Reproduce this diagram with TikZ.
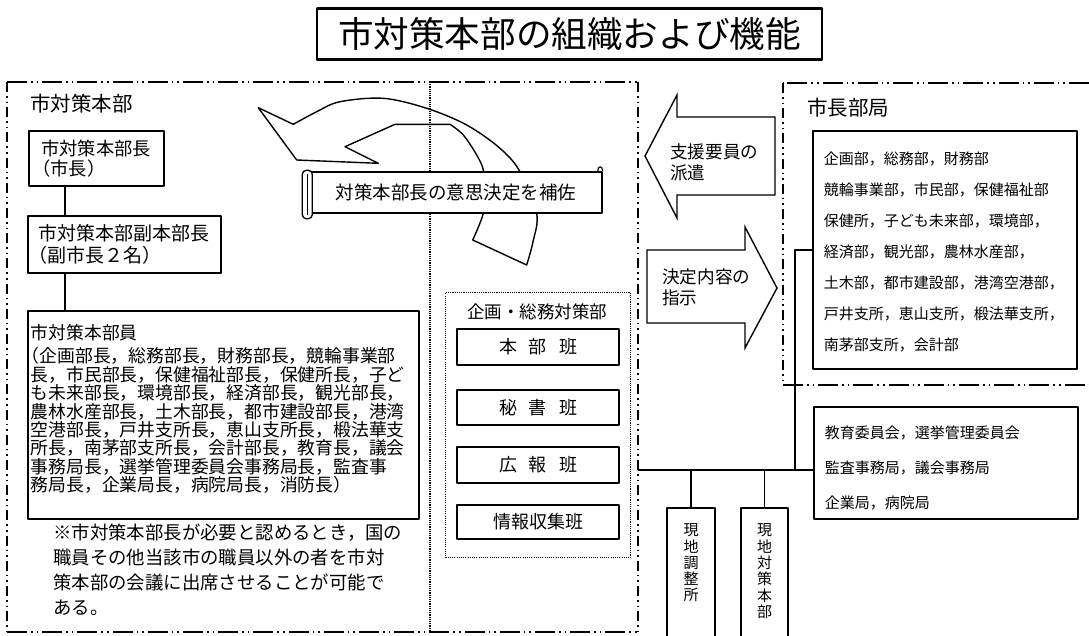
\documentclass[tikz,border=0pt]{standalone}
\usepackage{fontspec}
\setmainfont{Noto Sans CJK JP}
\usetikzlibrary{calc}
\newcommand\jfs[2]{\fontsize{#1}{#2}\selectfont}
\newcommand\mytopbox[4]{\parbox[c][#1][t]{#2}{\vspace*{#3}#4}}
\newcommand\lp{\hspace*{-0.5em}（}
\tikzset{
  box/.style={draw, line width=1.6pt, fill=white, inner sep=0pt},
  hdash/.style={line width=1.5pt, dash pattern=on 20pt off 4pt on 1.6pt off 4pt on 1.6pt off 4pt},
  vdash/.style={line width=1.3pt, dash pattern=on 10pt off 4pt on 1.6pt off 4pt on 1.6pt off 4pt},
  fdot/.style={line width=1.1pt, dash pattern=on 1.1pt off 1.1pt},
  conn/.style={line width=1.7pt},
  shapeline/.style={draw, line width=1.4pt, fill=white},
  lbl/.style={inner sep=0pt, align=left},
}
\begin{document}
\begin{tikzpicture}[x=1pt, y=-1pt, line join=round]
\useasboundingbox (0,0) rectangle (1089,635);
\fill[white] (0,0) rectangle (1089,635);

% title
\node[draw, line width=2.2pt, minimum width=505, minimum height=51, inner sep=0pt, font={\jfs{35.6}{40}}] (title) at (569.5,34) {市対策本部の組織および機能};

% outer frames
\draw[hdash] (7,82) -- (638,82);
\draw[vdash] (7,82) -- (7,632);
\draw[vdash] (638,82) -- (638,632);
\draw[hdash, line width=2.5pt] (7,632) -- (638,632);
\draw[hdash] (1089,83) -- (783,83);
\draw[vdash] (783,83) -- (783,385);
\draw[hdash] (783,385) -- (1089,385);

% left column
\node[lbl, anchor=west, font={\jfs{20.5}{22}}] (hqlabel) at (30,104) {市対策本部};
\node[box, minimum width=135, minimum height=55, anchor=north west, align=left, text width=110pt, font={\jfs{18.3}{20}}] (chief) at (28,130) {市対策本部長\\\lp 市長）};
\node[box, minimum width=193, minimum height=57, anchor=north west, align=left, text width=172pt, font={\jfs{19}{22}}] (vice) at (27,215) {市対策本部副本部長\\\lp 副市長２名）};
\node[box, minimum width=391, minimum height=208, anchor=north west] (members) at (27,310) {\mytopbox{208pt}{385pt}{14pt}{\jfs{17.8}{18.4}市対策本部員\\[4.6pt]
\lp 企画部長，総務部長，財務部長，競輪事業部\\
長，市民部長，保健福祉部長，保健所長，子ど\\
も未来部長，環境部長，経済部長，観光部長，\\
農林水産部長，土木部長，都市建設部長，港湾\\
空港部長，戸井支所長，恵山支所長，椴法華支\\
所長，南茅部支所長，会計部長，教育長，議会\\
事務局長，選挙管理委員会事務局長，監査事\\
務局長，企業局長，病院局長，消防長）}};
\node[lbl, anchor=west, font={\jfs{18.4}{25}}] (note) at (53,570) {※市対策本部長が必要と認めるとき，国の\\
職員その他当該市の職員以外の者を市対\\
策本部の会議に出席させることが可能で\\
ある。};

\coordinate (lx) at (65,0);
\draw[conn] (chief.south -| lx) -- (vice.north -| lx);
\draw[conn] (vice.south -| lx) -- (members.north -| lx);

% curved arrow
\draw[shapeline] (258.3,107.7) -- (293.3,124.3)
  -- plot[smooth, tension=0.55] coordinates {(293.3,124.3) (316.7,111.7) (340,101.7) (383.3,98.3) (426.7,108.3) (466.7,125) (500,148.3) (520,171.7) (536.7,213.3) (533,241.7) (526.7,265)}
  -- (472.7,240)
  -- plot[smooth, tension=0.55] coordinates {(472.7,240) (483.3,213.3) (484,190) (483.3,170) (476.7,155) (463.3,135) (450,124.3)}
  -- (395,124.3) -- (345,146.7) -- (378.3,163.3) -- (296.7,160) -- cycle;

% dotted divider
\draw[fdot] (430,82) -- (430,632);

% banner
\node[draw, line width=1.4pt, fill=white, minimum width=292, minimum height=41, inner sep=0pt, font={\jfs{18.5}{20}}] (banner) at (456,192.5) {対策本部長の意思決定を補佐};
\draw[line width=1.3pt, fill=white, rounded corners=4pt] ($(banner.north west)+(-7,-1)$) rectangle ($(banner.south west)+(3,5)$);
\draw[line width=1pt] ($(banner.north west)+(-2,3)$) -- ($(banner.south west)+(-2,1)$);
\draw[line width=1.2pt, fill=white] ($(banner.north east)+(-5,0)$) .. controls +(0,-6) and +(0,-6) .. ($(banner.north east)+(0,0)$);

% planning group
\node[fdot, draw, minimum width=185, minimum height=265, anchor=north west, inner sep=0pt] (planbox) at (445,292) {};
\node[inner sep=0pt, font={\jfs{17.5}{20}}] (plantitle) at (537,312) {企画・総務対策部};
\node[box, minimum width=162, minimum height=36, font={\jfs{18}{20}}] (t1) at (538,347) {本\hspace{12pt}部\hspace{12pt}班};
\node[box, minimum width=162, minimum height=35, font={\jfs{18}{20}}] (t2) at (538,407.5) {秘\hspace{12pt}書\hspace{12pt}班};
\node[box, minimum width=162, minimum height=36, font={\jfs{18}{20}}] (t3) at (538,465) {広\hspace{12pt}報\hspace{12pt}班};
\node[box, minimum width=162, minimum height=34, font={\jfs{18}{20}}] (t4) at (538,522) {情報収集班};

% block arrows
\draw[shapeline, line join=miter] (645,156) -- (677,95) -- (677,117) -- (775,117) -- (775,195) -- (677,195) -- (677,218) -- cycle;
\node[lbl, anchor=west, font={\jfs{17.6}{21}}] (support) at (670,162) {支援要員の\\派遣};
\draw[shapeline, line join=miter] (777,288) -- (745,227) -- (745,250) -- (647,250) -- (647,323) -- (745,323) -- (745,348) -- cycle;
\node[lbl, anchor=west, font={\jfs{17.6}{21}}] (instruct) at (662,287.5) {決定内容の\\指示};

% mayor's bureau
\node[lbl, anchor=west, font={\jfs{20.5}{22}}] (mayorlabel) at (807,108) {市長部局};
\node[box, minimum width=264, minimum height=238, anchor=north west] (mayorlist) at (812,130) {\mytopbox{238pt}{242pt}{21pt}{\jfs{15}{31}企画部，総務部，財務部\\
競輪事業部，市民部，保健福祉部\\
保健所，子ども未来部，環境部，\\
経済部，観光部，農林水産部，\\
土木部，都市建設部，港湾空港部，\\
戸井支所，恵山支所，椴法華支所，\\
南茅部支所，会計部}};
\node[box, minimum width=264, minimum height=112, anchor=north west] (boards) at (813,406) {\mytopbox{112pt}{242pt}{19pt}{\jfs{15}{35}教育委員会，選挙管理委員会\\
監査事務局，議会事務局\\
企業局，病院局}};

% field offices
\node[box, minimum width=48, minimum height=131, anchor=north] (genchi1) at (691,507) {\mytopbox{131pt}{20pt}{16pt}{\centering\jfs{15}{16.3}現\\地\\調\\整\\所}};
\node[box, minimum width=47, minimum height=131, anchor=north] (genchi2) at (764.5,507) {\mytopbox{131pt}{20pt}{16pt}{\centering\jfs{15}{16.4}現\\地\\対\\策\\本\\部}};

% connectors on the right
\coordinate (hqR) at (638,470);
\coordinate (jx) at (795,470);
\draw[conn] (mayorlist.west) -| (jx) -- (jx -| boards.west);
\draw[conn] (hqR) -- (jx);
\draw[conn] (jx -| genchi1.north) -- (genchi1.north);
\draw[conn] (jx -| genchi2.north) -- (genchi2.north);
\end{tikzpicture}
\end{document}
